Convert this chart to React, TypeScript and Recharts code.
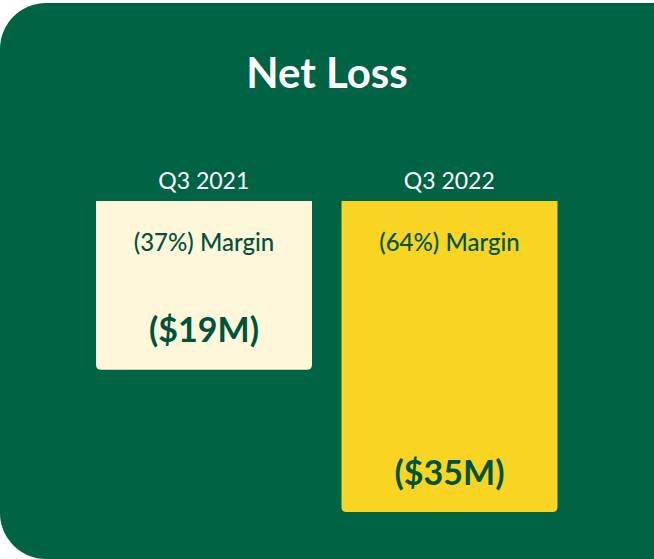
import { Bar, BarChart, Cell, LabelList, XAxis, YAxis } from "recharts";

const quarters = ["Q3 2021", "Q3 2022"];
const netLoss = [-19, -35];
const margins = [37, 64];
const barColors = ["#FEF7DA", "#F8D523"];

const data = quarters.map((quarter, i) => ({
  quarter,
  loss: netLoss[i],
  margin: margins[i],
}));

const GREEN = "#006344";
const TEXT_GREEN = "#00533A";
const FONT = "Lato, 'Noto Sans', sans-serif";

// bar hangs down from zero, only bottom corners rounded
const HangingBar = (props: any) => {
  const { x, y, width, height, fill } = props;
  const top = Math.min(y, y + height);
  const h = Math.abs(height);
  const r = Math.min(5, h / 2);
  const d = `M${x},${top} H${x + width} V${top + h - r} Q${x + width},${top + h} ${x + width - r},${top + h} H${x + r} Q${x},${top + h} ${x},${top + h - r} Z`;
  return <path d={d} fill={fill} />;
};

const MarginLabel = (props: any) => {
  const { x, y, width, height, value } = props;
  const top = Math.min(y, y + height);
  return (
    <text
      x={x + width / 2}
      y={top + 40}
      textAnchor="middle"
      dominantBaseline="central"
      fill={TEXT_GREEN}
      fontFamily={FONT}
      fontWeight={500}
      fontSize={24}
    >
      {`(${value}%) Margin`}
    </text>
  );
};

const ValueLabel = (props: any) => {
  const { x, y, width, height, value } = props;
  const bottom = Math.max(y, y + height);
  return (
    <text
      x={x + width / 2}
      y={bottom - 41}
      textAnchor="middle"
      dominantBaseline="central"
      fill={TEXT_GREEN}
      fontFamily={FONT}
      fontWeight={700}
      fontSize={34}
    >
      {`($${Math.abs(value)}M)`}
    </text>
  );
};

const QuarterTick = (props: any) => {
  const { x, payload } = props;
  return (
    <text
      x={x}
      y={180}
      textAnchor="middle"
      dominantBaseline="central"
      fill="#ffffff"
      fontFamily={FONT}
      fontSize={23}
    >
      {payload.value}
    </text>
  );
};

export default function App() {
  return (
    <div
      style={{
        position: "absolute",
        left: 0,
        top: 0,
        width: 654,
        height: 559,
        background: "#ffffff",
        overflow: "hidden",
      }}
    >
      <div
        style={{
          position: "absolute",
          left: 0,
          top: 3,
          width: 720,
          height: 556,
          background: GREEN,
          borderRadius: 46,
        }}
      />
      <div
        style={{
          position: "absolute",
          left: 0,
          top: 44,
          width: 654,
          textAlign: "center",
          color: "#ffffff",
          fontFamily: FONT,
          fontWeight: 700,
          fontSize: 42,
          lineHeight: "56px",
        }}
      >
        Net Loss
      </div>
      <div style={{ position: "absolute", left: 0, top: 0 }}>
        <BarChart
          width={654}
          height={559}
          data={data}
          margin={{ top: 171, right: 82, bottom: 47, left: 81 }}
          barCategoryGap={0}
        >
          <XAxis
            dataKey="quarter"
            orientation="top"
            height={30}
            axisLine={false}
            tickLine={false}
            tick={<QuarterTick />}
          />
          <YAxis hide domain={[-35, 0]} />
          <Bar
            dataKey="loss"
            barSize={216}
            shape={<HangingBar />}
            isAnimationActive={false}
          >
            {data.map((d, i) => (
              <Cell key={d.quarter} fill={barColors[i]} />
            ))}
            <LabelList dataKey="margin" content={<MarginLabel />} />
            <LabelList dataKey="loss" content={<ValueLabel />} />
          </Bar>
        </BarChart>
      </div>
    </div>
  );
}
